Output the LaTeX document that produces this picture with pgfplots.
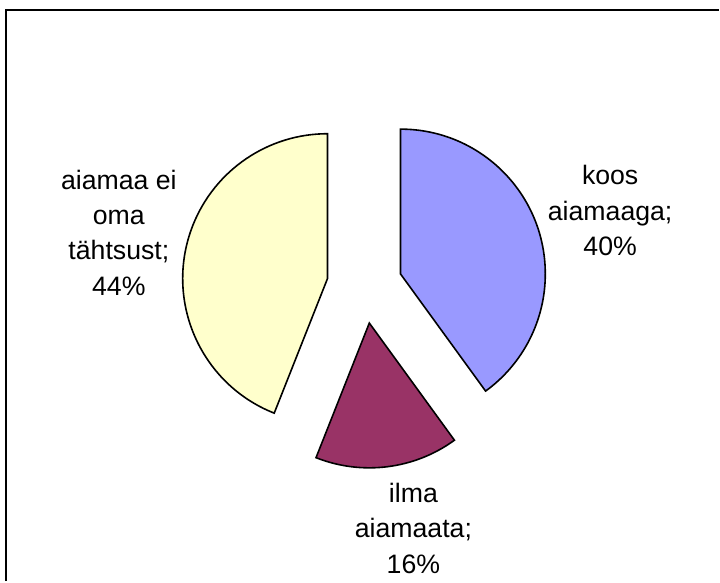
\documentclass[border=0pt]{standalone}
\usepackage{pgfplots}
\pgfplotsset{compat=1.18}
\usepackage{fontspec}
\setmainfont{Liberation Sans}
\definecolor{sliceblue}{HTML}{9999FF}
\definecolor{slicewine}{HTML}{993366}
\definecolor{sliceyellow}{HTML}{FFFFCC}
% pie geometry (axis units = bp)
\def\pcx{365.1}\def\pcy{296}\def\pexp{37.8}\def\prad{145}
\newcommand\pieslice[3]{% #1 start angle, #2 value (percent), #3 colour
  \pgfmathsetmacro\sA{#1}%
  \pgfmathsetmacro\eA{#1-3.6*#2}%
  \pgfmathsetmacro\mA{(\sA+\eA)/2}%
  \pgfmathsetmacro\vx{\pcx+\pexp*cos(\mA)}%
  \pgfmathsetmacro\vy{\pcy+\pexp*sin(\mA)}%
  \edef\tmp{\noexpand\filldraw[fill=#3, draw=black, line width=1.6bp, line join=miter]
    (axis cs:\vx,\vy) -- ++(\sA:\prad bp) arc[start angle=\sA, end angle=\eA, radius=\prad bp] -- cycle;}%
  \tmp
}
\begin{document}
\begin{tikzpicture}
\begin{axis}[
  scale only axis,
  x=1bp, y=1bp,
  xmin=0, xmax=720, ymin=0, ymax=582,
  hide axis, clip=false,
]
\path (axis cs:0,0) rectangle (axis cs:720,582);
% values: koos aiamaaga 40, ilma aiamaata 16, aiamaa ei oma tähtsust 44
\pieslice{90}{40}{sliceblue}
\pieslice{-54}{16}{slicewine}
\pieslice{-111.6}{44}{sliceyellow}
\draw[line width=2bp] (axis cs:6.5,0) -- (axis cs:6.5,571.5) -- (axis cs:720,571.5);
\node[align=center, font=\fontsize{26.8}{35.5}\selectfont] at (axis cs:611,371) {koos\\aiamaaga;\\40\%};
\node[align=center, font=\fontsize{26.8}{35.5}\selectfont] at (axis cs:414,53) {ilma\\aiamaata;\\16\%};
\node[align=center, font=\fontsize{26.8}{35.5}\selectfont] at (axis cs:119,349) {aiamaa ei\\oma\\tähtsust;\\44\%};
\end{axis}
\end{tikzpicture}
\end{document}
